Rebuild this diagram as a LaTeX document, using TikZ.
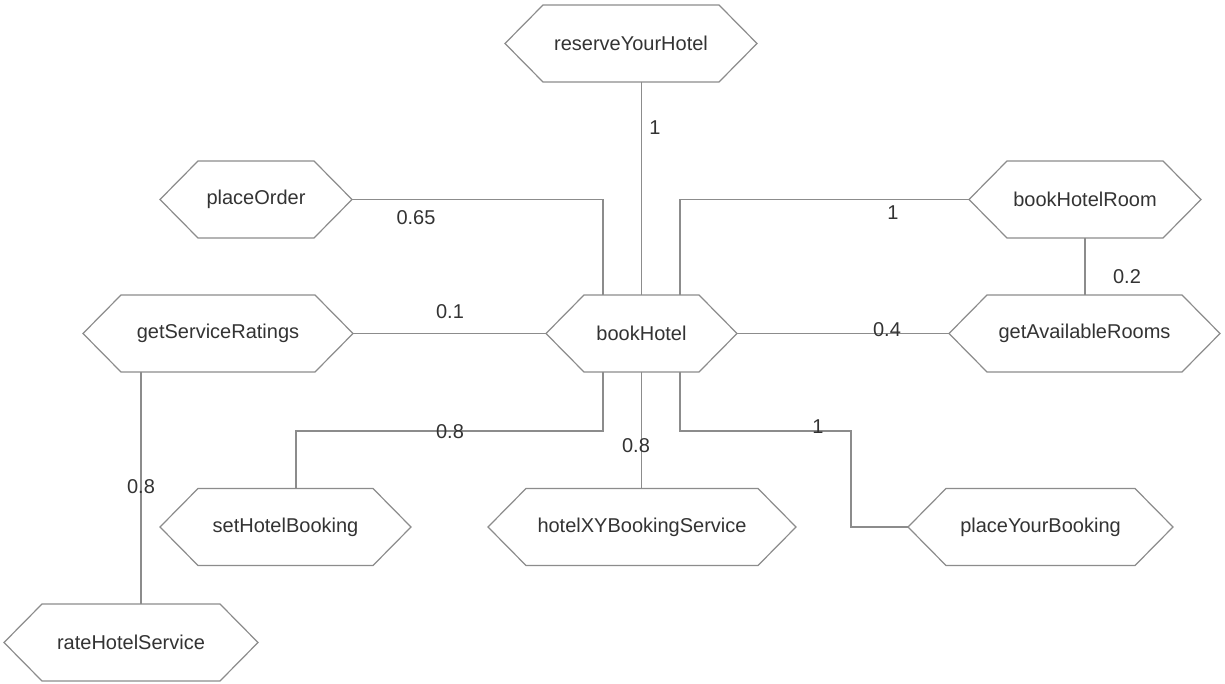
\documentclass[tikz,border=0pt]{standalone}
\usepackage{fontspec}
\setmainfont{Liberation Sans}
\definecolor{edgegray}{HTML}{8C8C8C}
\definecolor{inkgray}{HTML}{333333}
\tikzset{
  hexa/.style={minimum width=#1, minimum height=77pt, inner sep=0pt, outer sep=0pt,
    text=inkgray, font=\fontsize{20}{24}\selectfont},
  hexoutline/.style={draw=edgegray, line width=1.2pt, line join=miter},
  link/.style={draw=edgegray, line width=1.2pt},
  weight/.style={text=inkgray, inner sep=0pt, font=\fontsize{20}{24}\selectfont}
}
% a service: named node plus its hexagonal outline
\newcommand{\service}[5]{%
  \node[hexa=#4] (#1) at (#2,#3) {#5};
  \draw[hexoutline] (#1.west) -- ([xshift=38pt]#1.north west)
    -- ([xshift=-38pt]#1.north east) -- (#1.east)
    -- ([xshift=-38pt]#1.south east) -- ([xshift=38pt]#1.south west) -- cycle;
}
\begin{document}
\begin{tikzpicture}[x=1pt, y=-1pt]
\useasboundingbox[fill=white] (0,0) rectangle (1225,684);

% services
\service{reserve}{631}{43.5}{252pt}{reserveYourHotel}
\service{order}{256}{199.5}{192pt}{placeOrder}
\service{room}{1085}{199.5}{232pt}{bookHotelRoom}
\service{ratings}{218}{333.5}{270pt}{getServiceRatings}
\service{book}{641.5}{333.5}{191pt}{bookHotel}
\service{avail}{1084.5}{333.5}{271pt}{getAvailableRooms}
\service{setbook}{285.5}{527}{251pt}{setHotelBooking}
\service{xy}{642}{527}{308pt}{hotelXYBookingService}
\service{yours}{1040.5}{527}{265pt}{placeYourBooking}
\service{rate}{131}{642.5}{254pt}{rateHotelService}

% bend points of the elbow connectors
\coordinate (leftbar)  at (296,431);
\coordinate (rightbar) at (851,431);

% connectors
\draw[link] (book.north) -- (book.north |- reserve.south);
\draw[link] (order.east) -| ([xshift=-38.5pt]book.north);
\draw[link] (room.west) -| ([xshift=38.5pt]book.north);
\draw[link] (room.south) -- (room.south |- avail.north);
\draw[link] (ratings.east) -- (book.west);
\draw[link] (book.east) -- (avail.west);
\draw[link] ([xshift=-38.5pt]book.south) |- (leftbar) -- ([xshift=10.5pt]setbook.north);
\draw[link] (book.south) -- (book.south |- xy.north);
\draw[link] ([xshift=38.5pt]book.south) |- (rightbar) |- (yours.west);
\draw[link] ([xshift=10pt]rate.north) -- ([xshift=10pt]rate.north |- ratings.south);

% weights
\node[weight] (w1)  at (655,128) {1};
\node[weight] (w2)  at (416,218) {0.65};
\node[weight] (w3)  at (893,213) {1};
\node[weight] (w4)  at (1127,277) {0.2};
\node[weight] (w5)  at (450,312) {0.1};
\node[weight] (w6)  at (887,330) {0.4};
\node[weight] (w7)  at (450,432) {0.8};
\node[weight] (w8)  at (636,446) {0.8};
\node[weight] (w9)  at (818,427) {1};
\node[weight] (w10) at (141,487) {0.8};
\end{tikzpicture}
\end{document}
